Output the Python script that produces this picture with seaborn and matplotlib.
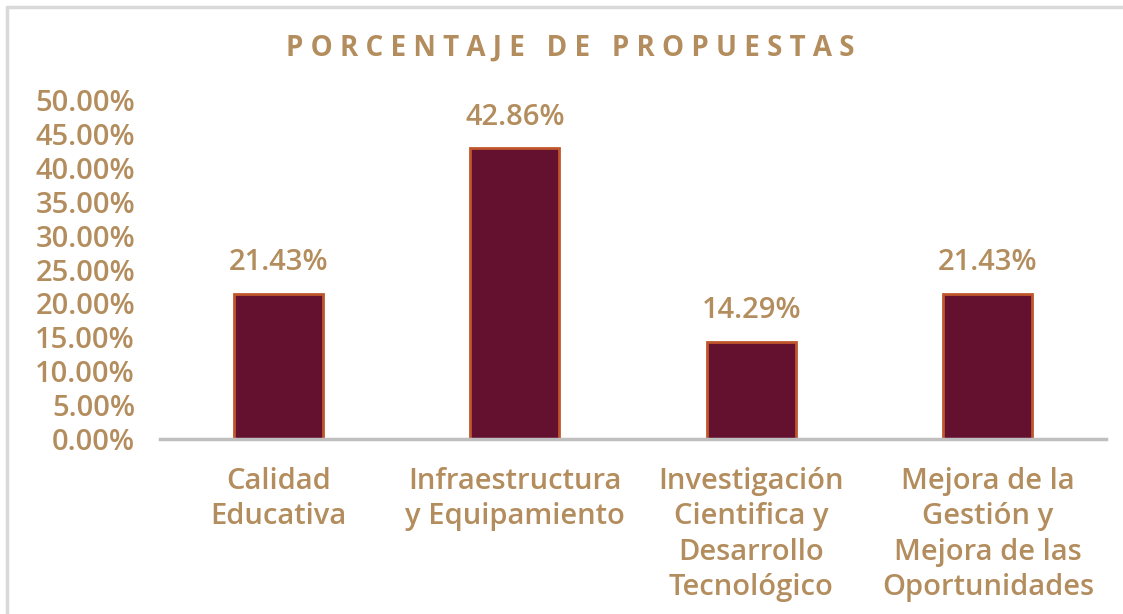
import matplotlib
matplotlib.use("Agg")
import matplotlib.pyplot as plt
import seaborn as sns
import pandas as pd
from matplotlib.lines import Line2D

categorias = ["Calidad\nEducativa", "Infraestructura\ny Equipamiento",
              "Investigación\nCientifica y\nDesarrollo\nTecnológico",
              "Mejora de la\nGestión y\nMejora de las\nOportunidades"]
porcentajes = [21.43, 42.86, 14.29, 21.43]
yticks = [0, 5, 10, 15, 20, 25, 30, 35, 40, 45, 50]

gold = "#B38D5D"
bar_color = "#64112F"
glow = "#C0562C"

sns.set_style("white")
plt.rcParams['font.family'] = ['Open Sans', 'DejaVu Sans']
plt.rcParams['font.weight'] = 'semibold'

df = pd.DataFrame({"cat": categorias, "pct": porcentajes})

fig = plt.figure(figsize=(11.23, 6.14), dpi=100)
ax = fig.add_axes([0.1425, 0.285, 0.8425, 0.552])
sns.barplot(data=df, x="cat", y="pct", color=bar_color, width=0.376,
            edgecolor=glow, linewidth=2, saturation=1, ax=ax)

ax.set_ylim(0, 50)
ax.set_yticks(yticks)
ax.set_yticklabels([f"{v:.2f}%" for v in yticks])
ax.set_xlabel("")
ax.set_ylabel("")
ax.tick_params(axis="y", colors=gold, labelsize=21, length=0, pad=18)
ax.tick_params(axis="x", colors=gold, labelsize=21, length=0, pad=20)
for lab in ax.get_xticklabels():
    lab.set_linespacing(1.29)

for s in ["top", "right", "left"]:
    ax.spines[s].set_visible(False)
ax.spines["bottom"].set_color("#BFBFBF")
ax.spines["bottom"].set_linewidth(2.5)

ax.bar_label(ax.containers[0], labels=[f"{v:.2f}%" for v in porcentajes],
             padding=12, color=gold, fontsize=21)

fig.text(0.508, 0.922, "P O R C E N T A J E   D E   P R O P U E S T A S",
         ha="center", va="center", color=gold, fontsize=20, fontweight="bold")

# marco gris
fig.add_artist(Line2D([0.0065, 1.0], [0.988, 0.988], color="#D9D9D9", lw=2.5,
                      transform=fig.transFigure))
fig.add_artist(Line2D([0.0065, 0.0065], [0.0, 0.988], color="#D9D9D9", lw=2.5,
                      transform=fig.transFigure))

fig.savefig("out.png", dpi=100, facecolor="white")
